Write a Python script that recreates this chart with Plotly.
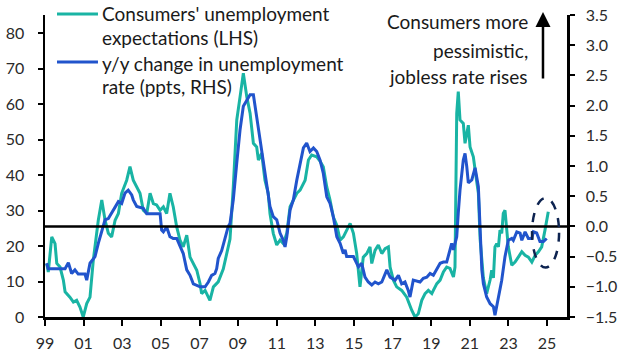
import plotly.graph_objects as go

# ---- data ----
exp_years = [1999.09, 1999.17, 1999.35, 1999.52, 1999.61, 1999.78, 1999.95, 2000.04, 2000.29, 2000.47,
             2000.64, 2000.81, 2000.98, 2001.16, 2001.33, 2001.50, 2001.76, 2001.94, 2002.11, 2002.28,
             2002.45, 2002.63, 2002.80, 2002.97, 2003.23, 2003.40, 2003.57, 2003.75, 2003.92, 2004.09,
             2004.27, 2004.44, 2004.61, 2004.78, 2004.96, 2005.13, 2005.30, 2005.47, 2005.64, 2005.82,
             2005.99, 2006.16, 2006.34, 2006.51, 2006.68, 2006.86, 2007.03, 2007.11, 2007.29, 2007.54,
             2007.72, 2007.97, 2008.23, 2008.41, 2008.58, 2008.75, 2008.93, 2009.10, 2009.27, 2009.45,
             2009.62, 2009.79, 2009.96, 2010.05, 2010.22, 2010.39, 2010.56, 2010.65, 2010.82, 2011.00,
             2011.17, 2011.34, 2011.52, 2011.69, 2011.86, 2012.04, 2012.21, 2012.47, 2012.64, 2012.81,
             2013.07, 2013.24, 2013.41, 2013.59, 2013.76, 2013.93, 2014.11, 2014.28, 2014.45, 2014.62,
             2014.80, 2014.97, 2015.14, 2015.31, 2015.48, 2015.66, 2015.83, 2015.92, 2016.09, 2016.26,
             2016.44, 2016.61, 2016.78, 2016.87, 2017.04, 2017.21, 2017.47, 2017.73, 2017.90, 2017.99,
             2018.16, 2018.33, 2018.51, 2018.68, 2018.85, 2019.03, 2019.11, 2019.29, 2019.46, 2019.63,
             2019.80, 2019.97, 2020.15, 2020.23, 2020.32, 2020.40, 2020.49, 2020.66, 2020.75, 2020.92,
             2021.01, 2021.18, 2021.36, 2021.44, 2021.53, 2021.62, 2021.70, 2021.87, 2022.05, 2022.13,
             2022.22, 2022.30, 2022.39, 2022.48, 2022.56, 2022.65, 2022.73, 2022.82, 2022.91, 2022.99,
             2023.17, 2023.34, 2023.51, 2023.69, 2023.86, 2024.03, 2024.21, 2024.38, 2024.55, 2024.72,
             2024.89, 2025.06]
exp_values = [15.1, 12.7, 22.6, 20.7, 15.1, 14.1, 10.4, 7.1, 5.6, 4.2,
              4.7, 2.8, 0.0, 3.8, 5.6, 16.0, 27.3, 33.0, 27.3, 23.6,
              22.6, 27.3, 29.2, 34.9, 38.6, 42.4, 38.6, 36.7, 34.9, 30.1,
              29.2, 34.9, 32.0, 31.6, 30.1, 31.1, 29.2, 34.9, 31.1, 25.4,
              21.7, 19.8, 23.1, 16.9, 15.1, 13.2, 9.4, 6.6, 7.5, 4.7,
              8.5, 9.9, 13.5, 17.5, 22.0, 36.7, 55.6, 62.1, 68.8, 62.1,
              57.5, 49.0, 48.0, 44.3, 46.2, 38.6, 34.9, 29.2, 23.6, 20.3,
              21.7, 20.7, 23.6, 31.1, 33.0, 34.9, 35.8, 38.6, 44.3, 45.7,
              45.2, 44.0, 42.4, 36.7, 33.0, 28.2, 25.9, 21.7, 22.6, 24.5,
              26.4, 23.6, 17.9, 8.5, 16.9, 17.9, 19.8, 15.1, 18.8, 20.3,
              17.9, 19.3, 19.8, 14.1, 10.4, 8.5, 7.5, 5.6, 2.8, 1.9,
              0.0, 0.9, 4.7, 6.6, 7.5, 6.6, 7.5, 9.4, 10.4, 12.7,
              14.1, 13.7, 11.3, 14.1, 57.5, 63.6, 55.6, 54.6, 49.0, 54.1,
              48.0, 45.2, 38.0, 35.0, 22.0, 16.0, 11.0, 6.6, 10.5, 13.2,
              11.0, 19.8, 20.7, 19.8, 24.5, 23.6, 29.2, 30.1, 25.4, 19.8,
              14.6, 15.5, 16.9, 18.4, 17.4, 16.9, 15.5, 17.4, 18.4, 19.8,
              24.5, 29.7]

chg_years = [1999.09, 1999.17, 1999.43, 2000.04, 2000.21, 2000.38, 2000.55, 2000.72, 2001.07, 2001.16,
             2001.33, 2001.59, 2001.76, 2001.94, 2002.11, 2002.28, 2002.45, 2002.63, 2002.80, 2002.97,
             2003.14, 2003.31, 2003.49, 2003.57, 2003.75, 2004.09, 2004.27, 2004.96, 2005.04, 2005.13,
             2005.30, 2005.47, 2005.64, 2005.82, 2005.99, 2006.16, 2006.34, 2006.51, 2006.68, 2006.86,
             2007.03, 2007.29, 2007.46, 2007.63, 2007.80, 2007.89, 2007.97, 2008.15, 2008.32, 2008.49,
             2008.58, 2008.75, 2008.93, 2009.10, 2009.27, 2009.45, 2009.62, 2009.79, 2009.96, 2010.14,
             2010.31, 2010.48, 2010.65, 2010.82, 2011.00, 2011.17, 2011.34, 2011.43, 2011.52, 2011.69,
             2011.86, 2012.04, 2012.21, 2012.38, 2012.55, 2012.72, 2012.90, 2013.07, 2013.24, 2013.41,
             2013.59, 2013.76, 2013.93, 2014.11, 2014.28, 2014.45, 2014.54, 2014.62, 2014.97, 2015.23,
             2015.40, 2015.57, 2015.74, 2015.92, 2016.09, 2016.26, 2016.44, 2016.70, 2016.87, 2017.13,
             2017.30, 2017.47, 2017.64, 2017.81, 2017.90, 2018.07, 2018.42, 2018.59, 2018.77, 2018.94,
             2019.11, 2019.29, 2019.46, 2019.63, 2019.80, 2019.97, 2020.06, 2020.15, 2020.32, 2020.40,
             2020.49, 2020.66, 2020.75, 2020.84, 2020.92, 2021.10, 2021.27, 2021.44, 2021.49, 2021.53,
             2021.62, 2021.70, 2021.87, 2022.05, 2022.22, 2022.30, 2022.48, 2022.65, 2022.82, 2022.99,
             2023.17, 2023.25, 2023.43, 2023.60, 2023.69, 2023.86, 2024.03, 2024.21, 2024.29, 2024.46,
             2024.63, 2024.81, 2024.98]
chg_values = [-0.61, -0.70, -0.70, -0.70, -0.60, -0.78, -0.72, -0.79, -0.79, -0.89,
              -0.61, -0.50, -0.28, -0.06, 0.11, 0.13, 0.22, 0.33, 0.41, 0.38,
              0.55, 0.60, 0.52, 0.44, 0.33, 0.30, 0.21, 0.21, -0.06, -0.09,
              -0.01, -0.17, -0.20, -0.20, -0.34, -0.45, -0.72, -0.81, -0.95, -0.97,
              -1.00, -1.00, -0.92, -0.81, -0.78, -0.70, -0.53, -0.40, -0.20, 0.00,
              0.05, 0.44, 1.05, 1.60, 1.99, 2.10, 2.18, 2.18, 1.82, 1.44,
              1.05, 0.66, 0.33, 0.16, 0.11, -0.11, -0.23, -0.34, -0.17, 0.27,
              0.44, 0.77, 1.05, 1.30, 1.38, 1.24, 1.30, 1.24, 1.10, 0.88,
              0.49, 0.38, 0.16, -0.17, -0.28, -0.45, -0.39, -0.50, -0.50, -0.67,
              -0.61, -0.84, -0.92, -0.97, -0.92, -0.95, -0.92, -0.72, -0.84, -0.89,
              -0.81, -0.95, -0.92, -1.06, -1.17, -0.89, -0.92, -0.86, -0.84, -0.78,
              -0.81, -0.70, -0.61, -0.59, -0.59, -0.39, -0.28, -0.39, -0.17, 0.22,
              0.60, 1.10, 1.21, 0.99, 0.72, 0.77, 0.97, 0.66, 0.30, -0.08,
              -0.72, -0.95, -1.17, -1.28, -1.33, -1.47, -1.17, -0.89, -0.50, -0.23,
              -0.20, -0.23, -0.09, -0.11, -0.23, -0.09, -0.20, -0.20, -0.09, -0.11,
              -0.25, -0.25, -0.20]

x_tickvals = [1999, 2001, 2003, 2005, 2007, 2009, 2011, 2013, 2015, 2017, 2019, 2021, 2023, 2025]
x_ticktext = ["99", "01", "03", "05", "07", "09", "11", "13", "15", "17", "19", "21", "23", "25"]
left_ticks = [0, 10, 20, 30, 40, 50, 60, 70, 80]
right_ticks = [-1.5, -1.0, -0.5, 0.0, 0.5, 1.0, 1.5, 2.0, 2.5, 3.0, 3.5]

legend_exp = ["Consumers' unemployment", "expectations (LHS)"]
legend_chg = ["y/y change in unemployment", "rate (ppts, RHS)"]
note_lines = ["Consumers more", "pessimistic,", "jobless rate rises"]

TEAL = "#19b4a4"
BLUE = "#2154cc"
NAVY = "#0d2350"
FONT = "Lato"
TXT = "#1a1a1a"
TICK_TXT = "#2a2a2a"
TICK_SIZE = 16

fig = go.Figure()
fig.add_trace(go.Scatter(x=exp_years, y=exp_values, mode="lines",
                         line=dict(color=TEAL, width=3), yaxis="y", showlegend=False,
                         hoverinfo="skip"))
fig.add_trace(go.Scatter(x=chg_years, y=chg_values, mode="lines",
                         line=dict(color=BLUE, width=3), yaxis="y2", showlegend=False,
                         hoverinfo="skip"))

fig.update_layout(
    template="none",
    width=629, height=355,
    margin=dict(l=45, r=62, t=15, b=38, autoexpand=False),
    plot_bgcolor="white", paper_bgcolor="white",
    font=dict(family=FONT, size=17, color=TXT),
    xaxis=dict(range=[1999, 2026.03], tickvals=x_tickvals, ticktext=x_ticktext,
               showline=True, linecolor="black", linewidth=2.5, ticks="outside",
               ticklen=6, tickwidth=2, tickcolor="black", showgrid=False, zeroline=False,
               automargin=False, tickfont=dict(size=TICK_SIZE, color=TICK_TXT),
               ticklabelstandoff=4),
    yaxis=dict(range=[0, 85.2], tickvals=left_ticks, showline=True, linecolor="black",
               linewidth=2.5, ticks="outside", ticklen=5, tickwidth=2, tickcolor="black",
               showgrid=False, zeroline=False, automargin=False,
               tickfont=dict(size=TICK_SIZE, color=TICK_TXT), ticklabelstandoff=10),
    yaxis2=dict(range=[-1.5, 3.5], tickvals=right_ticks, tickformat=".1f", overlaying="y",
                side="right", showline=True, linecolor="black", linewidth=2.5,
                ticks="outside", ticklen=5, tickwidth=2, tickcolor="black",
                showgrid=False, zeroline=False, automargin=False,
                tickfont=dict(size=TICK_SIZE, color=TICK_TXT), ticklabelstandoff=8),
)

# zero line on the right-hand axis
fig.add_shape(type="line", xref="paper", x0=0, x1=1, yref="y2", y0=0, y1=0,
              line=dict(color="black", width=2.5), layer="above")
# dashed ellipse highlighting latest readings
fig.add_shape(type="circle", xref="x", yref="y2", x0=2024.22, x1=2025.62, y0=-0.68, y1=0.47,
              line=dict(color=NAVY, width=2.5, dash="dash"), layer="above")

# legend (line samples + text)
fig.add_shape(type="line", xref="paper", yref="paper", x0=0.023, x1=0.1015, y0=1.003, y1=1.003,
              line=dict(color=TEAL, width=3))
fig.add_shape(type="line", xref="paper", yref="paper", x0=0.023, x1=0.1015, y0=0.844, y1=0.844,
              line=dict(color=BLUE, width=3))
leg_y = [1.005, 0.927, 0.841, 0.762]
for txt, yy in zip(legend_exp + legend_chg, leg_y):
    fig.add_annotation(text=txt, xref="paper", yref="paper", x=0.105, y=yy,
                       xanchor="left", yanchor="middle", showarrow=False,
                       font=dict(size=19, color=TXT, family=FONT))

# note on the right
for txt, yy in zip(note_lines, [0.977, 0.884, 0.798]):
    fig.add_annotation(text=txt, xref="paper", yref="paper", x=0.93, y=yy,
                       xanchor="right", yanchor="middle", showarrow=False,
                       font=dict(size=19, color=TXT, family=FONT))
fig.add_annotation(text="", xref="paper", yref="paper", x=0.954, y=1.01,
                   ax=0, ay=68, showarrow=True, arrowhead=2, arrowsize=1.2,
                   arrowwidth=2.5, arrowcolor="black")

fig.write_html("out.html", config={"displayModeBar": False, "staticPlot": True},
               post_script="document.body.style.margin='0px';document.body.style.padding='0px';")
